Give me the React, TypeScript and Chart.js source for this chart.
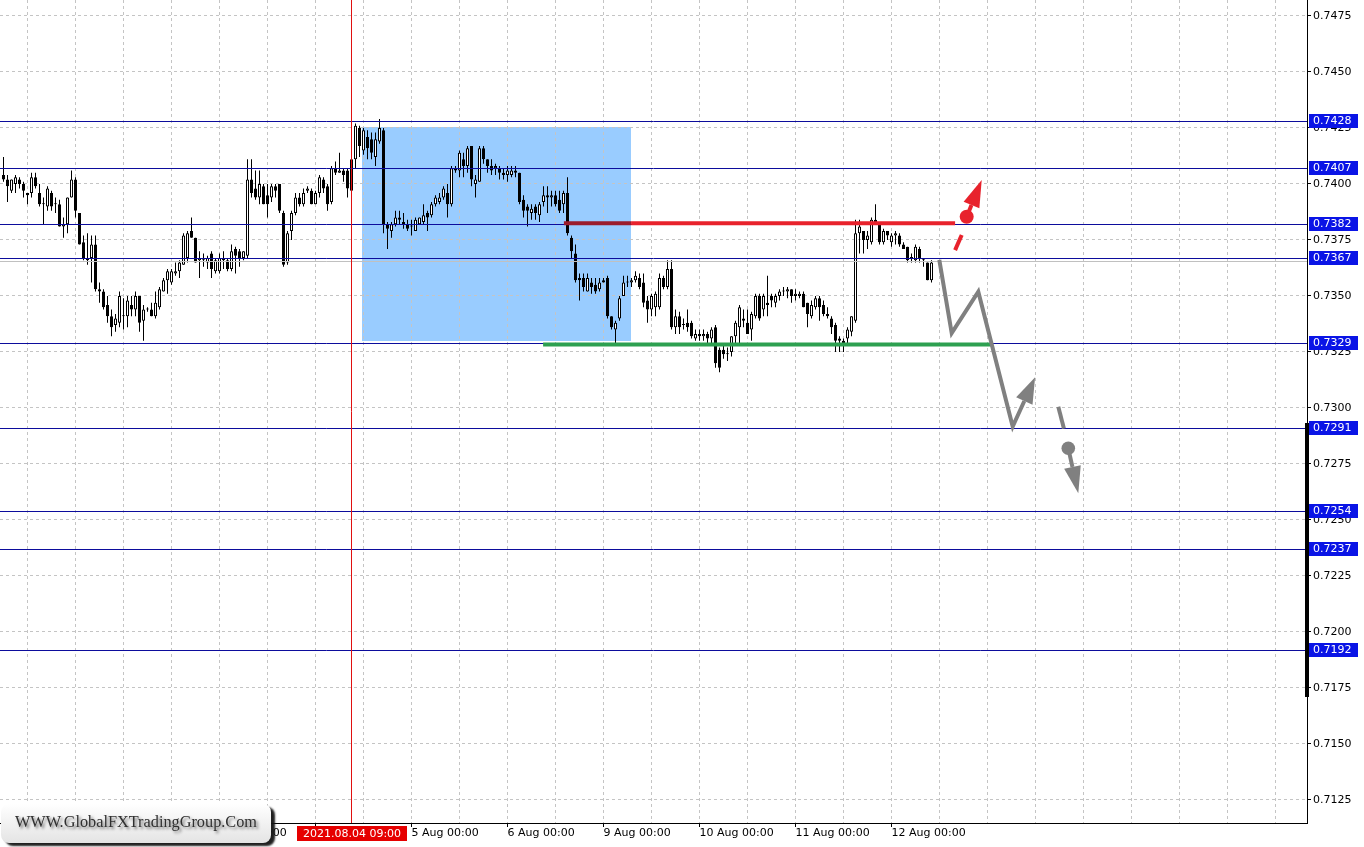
import React, { useEffect, useRef } from 'react';
import { Chart, registerables } from 'chart.js';

Chart.register(...registerables);
Chart.defaults.font.family = "'DejaVu Sans'";

// H1 candles, index 0 = first visible bar (4 Aug 09:00 is index 87)
const opens = [
  0.7404, 0.7402, 0.7397, 0.7400, 0.7402, 0.7400, 0.7396, 0.7396, 0.7403, 0.7396,
  0.7391, 0.7390, 0.7396, 0.7391, 0.7391, 0.7381, 0.7382, 0.7394, 0.7402, 0.7387,
  0.7374, 0.7367, 0.7367, 0.7373, 0.7353, 0.7352, 0.7346, 0.7341, 0.7337, 0.7338,
  0.7341, 0.7341, 0.7346, 0.7344, 0.7350, 0.7339, 0.7344, 0.7344, 0.7341, 0.7345,
  0.7352, 0.7357, 0.7356, 0.7360, 0.7361, 0.7364, 0.7367, 0.7379, 0.7376, 0.7366,
  0.7366, 0.7365, 0.7369, 0.7361, 0.7361, 0.7367, 0.7366, 0.7362, 0.7371, 0.7370,
  0.7367, 0.7368, 0.7402, 0.7398, 0.7394, 0.7399, 0.7395, 0.7394, 0.7399, 0.7400,
  0.7387, 0.7365, 0.7379, 0.7387, 0.7394, 0.7391, 0.7397, 0.7397, 0.7391, 0.7396,
  0.7402, 0.7399, 0.7392, 0.7407, 0.7405, 0.7406, 0.7406, 0.7397, 0.7411, 0.7425,
  0.7415, 0.7421, 0.7420, 0.7412, 0.7419, 0.7424, 0.7382, 0.7379, 0.7382, 0.7385,
  0.7383, 0.7382, 0.7381, 0.7379, 0.7382, 0.7383, 0.7387, 0.7386, 0.7391, 0.7392,
  0.7394, 0.7396, 0.7391, 0.7407, 0.7406, 0.7411, 0.7408, 0.7417, 0.7400, 0.7401,
  0.7416, 0.7411, 0.7408, 0.7407, 0.7407, 0.7405, 0.7404, 0.7404, 0.7406, 0.7405,
  0.7393, 0.7390, 0.7387, 0.7390, 0.7386, 0.7392, 0.7395, 0.7394, 0.7395, 0.7393,
  0.7391, 0.7396, 0.7376, 0.7369, 0.7358, 0.7358, 0.7352, 0.7356, 0.7355, 0.7353,
  0.7357, 0.7358, 0.7341, 0.7335, 0.7340, 0.7350, 0.7356, 0.7356, 0.7357, 0.7358,
  0.7356, 0.7348, 0.7344, 0.7345, 0.7345, 0.7358, 0.7354, 0.7362, 0.7336, 0.7341,
  0.7337, 0.7338, 0.7338, 0.7331, 0.7333, 0.7332, 0.7333, 0.7331, 0.7336, 0.7326,
  0.7326, 0.7324, 0.7325, 0.7332, 0.7336, 0.7340, 0.7338, 0.7335, 0.7341, 0.7350,
  0.7344, 0.7347, 0.7350, 0.7347, 0.7350, 0.7352, 0.7352, 0.7353, 0.7350, 0.7350,
  0.7351, 0.7347, 0.7341, 0.7345, 0.7349, 0.7346, 0.7342, 0.7340, 0.7337, 0.7331,
  0.7330, 0.7331, 0.7334, 0.7339, 0.7378, 0.7379, 0.7375, 0.7374, 0.7384, 0.7382,
  0.7374, 0.7379, 0.7374, 0.7377, 0.7377, 0.7373, 0.7372, 0.7367, 0.7366, 0.7371,
  0.7366, 0.7365, 0.7357,
];
const highs = [
  0.7412, 0.7404, 0.7402, 0.7404, 0.7403, 0.7401, 0.7396, 0.7405, 0.7405, 0.7400,
  0.7394, 0.7399, 0.7397, 0.7394, 0.7393, 0.7385, 0.7394, 0.7406, 0.7403, 0.7387,
  0.7377, 0.7378, 0.7377, 0.7377, 0.7356, 0.7353, 0.7350, 0.7344, 0.7342, 0.7352,
  0.7349, 0.7350, 0.7350, 0.7352, 0.7350, 0.7346, 0.7345, 0.7347, 0.7352, 0.7354,
  0.7358, 0.7362, 0.7362, 0.7365, 0.7366, 0.7378, 0.7379, 0.7385, 0.7376, 0.7370,
  0.7369, 0.7368, 0.7370, 0.7367, 0.7369, 0.7370, 0.7367, 0.7373, 0.7372, 0.7371,
  0.7370, 0.7411, 0.7411, 0.7406, 0.7406, 0.7400, 0.7400, 0.7400, 0.7400, 0.7400,
  0.7388, 0.7379, 0.7388, 0.7396, 0.7396, 0.7398, 0.7399, 0.7398, 0.7397, 0.7404,
  0.7403, 0.7400, 0.7408, 0.7410, 0.7414, 0.7407, 0.7407, 0.7413, 0.7427, 0.7426,
  0.7425, 0.7424, 0.7423, 0.7423, 0.7429, 0.7425, 0.7383, 0.7383, 0.7388, 0.7388,
  0.7387, 0.7384, 0.7384, 0.7385, 0.7385, 0.7391, 0.7388, 0.7392, 0.7395, 0.7396,
  0.7399, 0.7400, 0.7408, 0.7408, 0.7415, 0.7414, 0.7417, 0.7417, 0.7404, 0.7417,
  0.7417, 0.7411, 0.7411, 0.7409, 0.7408, 0.7407, 0.7408, 0.7408, 0.7408, 0.7405,
  0.7395, 0.7391, 0.7391, 0.7391, 0.7392, 0.7399, 0.7399, 0.7397, 0.7397, 0.7397,
  0.7397, 0.7403, 0.7377, 0.7373, 0.7360, 0.7360, 0.7360, 0.7358, 0.7358, 0.7358,
  0.7358, 0.7359, 0.7341, 0.7339, 0.7350, 0.7359, 0.7359, 0.7358, 0.7361, 0.7360,
  0.7360, 0.7350, 0.7351, 0.7352, 0.7360, 0.7359, 0.7366, 0.7366, 0.7344, 0.7343,
  0.7340, 0.7344, 0.7339, 0.7335, 0.7335, 0.7335, 0.7334, 0.7336, 0.7337, 0.7327,
  0.7328, 0.7327, 0.7332, 0.7339, 0.7346, 0.7344, 0.7344, 0.7343, 0.7351, 0.7351,
  0.7351, 0.7359, 0.7351, 0.7351, 0.7353, 0.7354, 0.7354, 0.7353, 0.7353, 0.7352,
  0.7352, 0.7347, 0.7348, 0.7350, 0.7350, 0.7348, 0.7345, 0.7341, 0.7338, 0.7332,
  0.7331, 0.7336, 0.7341, 0.7384, 0.7384, 0.7379, 0.7379, 0.7385, 0.7391, 0.7382,
  0.7380, 0.7379, 0.7378, 0.7379, 0.7378, 0.7374, 0.7372, 0.7369, 0.7373, 0.7372,
  0.7367, 0.7365, 0.7366,
];
const lows = [
  0.7401, 0.7392, 0.7396, 0.7396, 0.7398, 0.7394, 0.7391, 0.7394, 0.7398, 0.7390,
  0.7382, 0.7388, 0.7388, 0.7387, 0.7381, 0.7376, 0.7378, 0.7394, 0.7385, 0.7373,
  0.7366, 0.7364, 0.7356, 0.7352, 0.7347, 0.7344, 0.7338, 0.7332, 0.7334, 0.7336,
  0.7335, 0.7336, 0.7341, 0.7341, 0.7334, 0.7330, 0.7343, 0.7341, 0.7340, 0.7344,
  0.7352, 0.7351, 0.7355, 0.7359, 0.7358, 0.7364, 0.7365, 0.7376, 0.7365, 0.7358,
  0.7363, 0.7362, 0.7358, 0.7360, 0.7360, 0.7362, 0.7361, 0.7361, 0.7360, 0.7363,
  0.7366, 0.7367, 0.7394, 0.7393, 0.7391, 0.7391, 0.7385, 0.7392, 0.7394, 0.7387,
  0.7363, 0.7364, 0.7375, 0.7386, 0.7390, 0.7390, 0.7396, 0.7391, 0.7391, 0.7394,
  0.7396, 0.7388, 0.7391, 0.7404, 0.7405, 0.7401, 0.7394, 0.7394, 0.7407, 0.7412,
  0.7413, 0.7411, 0.7411, 0.7408, 0.7418, 0.7378, 0.7371, 0.7376, 0.7381, 0.7382,
  0.7380, 0.7379, 0.7377, 0.7379, 0.7382, 0.7382, 0.7379, 0.7385, 0.7390, 0.7391,
  0.7393, 0.7385, 0.7390, 0.7405, 0.7403, 0.7403, 0.7405, 0.7399, 0.7394, 0.7401,
  0.7409, 0.7405, 0.7404, 0.7404, 0.7402, 0.7402, 0.7401, 0.7403, 0.7403, 0.7391,
  0.7385, 0.7381, 0.7384, 0.7384, 0.7383, 0.7390, 0.7387, 0.7390, 0.7390, 0.7387,
  0.7387, 0.7377, 0.7367, 0.7356, 0.7348, 0.7352, 0.7352, 0.7351, 0.7351, 0.7352,
  0.7356, 0.7340, 0.7335, 0.7329, 0.7339, 0.7350, 0.7354, 0.7354, 0.7356, 0.7353,
  0.7345, 0.7338, 0.7341, 0.7341, 0.7344, 0.7353, 0.7353, 0.7335, 0.7333, 0.7333,
  0.7335, 0.7334, 0.7331, 0.7330, 0.7330, 0.7330, 0.7329, 0.7329, 0.7318, 0.7316,
  0.7322, 0.7321, 0.7323, 0.7329, 0.7329, 0.7336, 0.7333, 0.7330, 0.7340, 0.7339,
  0.7341, 0.7341, 0.7345, 0.7345, 0.7348, 0.7350, 0.7349, 0.7347, 0.7348, 0.7349,
  0.7345, 0.7336, 0.7340, 0.7344, 0.7339, 0.7341, 0.7340, 0.7333, 0.7325, 0.7325,
  0.7325, 0.7329, 0.7332, 0.7338, 0.7369, 0.7369, 0.7371, 0.7373, 0.7382, 0.7373,
  0.7373, 0.7375, 0.7372, 0.7373, 0.7372, 0.7371, 0.7365, 0.7365, 0.7365, 0.7365,
  0.7363, 0.7357, 0.7356,
];
const closes = [
  0.7402, 0.7399, 0.7402, 0.7403, 0.7400, 0.7397, 0.7395, 0.7403, 0.7399, 0.7391,
  0.7391, 0.7398, 0.7390, 0.7391, 0.7381, 0.7382, 0.7394, 0.7402, 0.7388, 0.7373,
  0.7367, 0.7366, 0.7373, 0.7353, 0.7352, 0.7345, 0.7341, 0.7336, 0.7340, 0.7350,
  0.7341, 0.7348, 0.7344, 0.7350, 0.7338, 0.7344, 0.7344, 0.7341, 0.7347, 0.7353,
  0.7357, 0.7361, 0.7361, 0.7361, 0.7365, 0.7377, 0.7378, 0.7376, 0.7365, 0.7367,
  0.7366, 0.7367, 0.7362, 0.7366, 0.7367, 0.7366, 0.7362, 0.7370, 0.7368, 0.7367,
  0.7370, 0.7402, 0.7396, 0.7394, 0.7400, 0.7391, 0.7391, 0.7399, 0.7397, 0.7388,
  0.7364, 0.7378, 0.7387, 0.7394, 0.7391, 0.7396, 0.7398, 0.7391, 0.7396, 0.7403,
  0.7398, 0.7391, 0.7407, 0.7405, 0.7406, 0.7404, 0.7398, 0.7411, 0.7426, 0.7417,
  0.7424, 0.7416, 0.7414, 0.7420, 0.7425, 0.7382, 0.7380, 0.7382, 0.7385, 0.7384,
  0.7382, 0.7380, 0.7381, 0.7384, 0.7385, 0.7386, 0.7385, 0.7391, 0.7394, 0.7394,
  0.7398, 0.7391, 0.7407, 0.7406, 0.7414, 0.7408, 0.7416, 0.7402, 0.7402, 0.7416,
  0.7411, 0.7408, 0.7406, 0.7408, 0.7405, 0.7404, 0.7406, 0.7406, 0.7405, 0.7392,
  0.7388, 0.7388, 0.7389, 0.7387, 0.7391, 0.7395, 0.7394, 0.7395, 0.7391, 0.7388,
  0.7396, 0.7378, 0.7370, 0.7357, 0.7357, 0.7354, 0.7358, 0.7354, 0.7352, 0.7356,
  0.7356, 0.7341, 0.7336, 0.7338, 0.7349, 0.7356, 0.7356, 0.7357, 0.7359, 0.7354,
  0.7347, 0.7344, 0.7350, 0.7351, 0.7358, 0.7354, 0.7362, 0.7336, 0.7341, 0.7336,
  0.7337, 0.7336, 0.7332, 0.7333, 0.7332, 0.7333, 0.7331, 0.7335, 0.7320, 0.7318,
  0.7324, 0.7324, 0.7332, 0.7338, 0.7345, 0.7339, 0.7333, 0.7342, 0.7350, 0.7340,
  0.7350, 0.7346, 0.7348, 0.7350, 0.7352, 0.7352, 0.7353, 0.7350, 0.7351, 0.7351,
  0.7345, 0.7342, 0.7346, 0.7349, 0.7345, 0.7342, 0.7341, 0.7336, 0.7330, 0.7330,
  0.7329, 0.7335, 0.7341, 0.7378, 0.7381, 0.7375, 0.7377, 0.7384, 0.7383, 0.7374,
  0.7379, 0.7377, 0.7377, 0.7378, 0.7373, 0.7371, 0.7366, 0.7367, 0.7372, 0.7367,
  0.7366, 0.7357, 0.7365,
];

// axes
const yTickValues = [0.7125, 0.715, 0.7175, 0.72, 0.7225, 0.725, 0.7275, 0.73, 0.7325, 0.735, 0.7375, 0.74, 0.7425, 0.745, 0.7475];
const xGridIdx = [6, 18, 30, 42, 54, 66, 78, 90, 102, 114, 126, 138, 150, 162, 174, 186, 198, 210, 222, 234, 246, 258, 270, 282, 294, 306, 318];
const dayTickIdx = [6, 30, 54, 78, 102, 126, 150, 174, 198, 222];
const dayLabels = ['30 Jul 00:00', '2 Aug 00:00', '3 Aug 00:00', '4 Aug 00:00', '5 Aug 00:00', '6 Aug 00:00', '9 Aug 00:00', '10 Aug 00:00', '11 Aug 00:00', '12 Aug 00:00'];
const priceMin = 0.711473;
const priceMax = 0.748214;
const idxMin = -0.875;
const idxMax = 325.875;

// horizontal levels
const levels = [0.7428, 0.7407, 0.7382, 0.7367, 0.7329, 0.7291, 0.7254, 0.7237, 0.7192];
const bidPrice = 0.73656;

// marker
const markerIdx = 87;
const markerLabel = '2021.08.04 09:00';

// zone rectangle [startIdx, endIdx], [high, low]
const zoneIdx = [89.55, 156.9];
const zonePrice = [0.74253, 0.73296];

// red resistance and green support segments
const redLineIdx = [140.1, 237.9];
const redLinePrice = 0.73825;
const greenLineIdx = [134.9, 246.9];
const greenLinePrice = 0.73284;

// gray forecast path
const grayPathIdx = [233.95, 237.05, 243.7, 252.3, 257.9];
const grayPathPrice = [0.73661, 0.73334, 0.73519, 0.72917, 0.73137];
const grayDashIdx = [263.7, 265.1];
const grayDashPrice = [0.73006, 0.72909];
const grayDotIdx = 266.2;
const grayDotPrice = 0.7282;
const grayTipIdx = 268.7;
const grayTipPrice = 0.72619;

// red alternative
const redDashIdx = [237.9, 239.55];
const redDashPrice = [0.73705, 0.73772];
const redDotIdx = 240.8;
const redDotPrice = 0.73854;
const redTipIdx = 244.55;
const redTipPrice = 0.74018;

const watermark = 'WWW.GlobalFXTradingGroup.Com';

function arrowHead(ctx: CanvasRenderingContext2D, fx: number, fy: number, tx: number, ty: number, len: number, half: number, color: string) {
  const dx = tx - fx, dy = ty - fy;
  const d = Math.hypot(dx, dy);
  const ux = dx / d, uy = dy / d;
  const bx = tx - ux * len, by = ty - uy * len;
  ctx.beginPath();
  ctx.moveTo(tx, ty);
  ctx.lineTo(bx - uy * half, by + ux * half);
  ctx.lineTo(bx + uy * half, by - ux * half);
  ctx.closePath();
  ctx.fillStyle = color;
  ctx.fill();
  return [bx, by];
}

const overlay = {
  id: 'overlay',
  beforeDraw(chart: any) {
    const { ctx, scales } = chart;
    const xs = scales.x, ys = scales.y;
    ctx.save();
    ctx.fillStyle = '#ffffff';
    ctx.fillRect(0, 0, chart.width, chart.height);
    const x0 = xs.getPixelForValue(zoneIdx[0]);
    const x1 = xs.getPixelForValue(zoneIdx[1]);
    const y0 = ys.getPixelForValue(zonePrice[0]);
    const y1 = ys.getPixelForValue(zonePrice[1]);
    ctx.fillStyle = '#99ccff';
    ctx.fillRect(Math.round(x0), Math.round(y0), Math.round(x1 - x0), Math.round(y1 - y0));
    ctx.restore();
  },
  afterDatasetsDraw(chart: any) {
    const { ctx, chartArea: a, scales } = chart;
    const xs = scales.x, ys = scales.y;
    const px = (v: number) => xs.getPixelForValue(v);
    const py = (v: number) => ys.getPixelForValue(v);
    ctx.save();
    ctx.beginPath();
    ctx.rect(a.left, a.top, a.right - a.left, a.bottom - a.top);
    ctx.clip();

    // bid line
    ctx.lineWidth = 1;
    ctx.strokeStyle = '#c0c0c0';
    let yy = Math.round(py(bidPrice)) + 0.5;
    ctx.beginPath(); ctx.moveTo(a.left, yy); ctx.lineTo(a.right, yy); ctx.stroke();

    // levels
    ctx.strokeStyle = '#0c0c9c';
    for (const lv of levels) {
      yy = Math.round(py(lv)) + 0.5;
      ctx.beginPath(); ctx.moveTo(a.left, yy); ctx.lineTo(a.right, yy); ctx.stroke();
    }

    // red resistance line (darker inside the zone)
    ctx.lineWidth = 4;
    const ry = py(redLinePrice);
    const zEnd = px(zoneIdx[1]);
    ctx.strokeStyle = '#e8222c';
    ctx.beginPath(); ctx.moveTo(zEnd, ry); ctx.lineTo(px(redLineIdx[1]), ry); ctx.stroke();
    ctx.strokeStyle = '#9b1c2c';
    ctx.beginPath(); ctx.moveTo(px(redLineIdx[0]), ry); ctx.lineTo(zEnd, ry); ctx.stroke();

    // green support line
    const gy = py(greenLinePrice);
    ctx.strokeStyle = '#2da050';
    ctx.beginPath(); ctx.moveTo(px(greenLineIdx[0]), gy); ctx.lineTo(px(greenLineIdx[1]), gy); ctx.stroke();

    // gray forecast zigzag
    const gray = '#808080';
    const n = grayPathIdx.length;
    const [gbx, gby] = arrowHead(ctx, px(grayPathIdx[n - 2]), py(grayPathPrice[n - 2]), px(grayPathIdx[n - 1]), py(grayPathPrice[n - 1]), 26, 9, gray);
    ctx.strokeStyle = gray;
    ctx.lineWidth = 4;
    ctx.lineJoin = 'miter';
    ctx.beginPath();
    ctx.moveTo(px(grayPathIdx[0]), py(grayPathPrice[0]));
    for (let i = 1; i < n - 1; i++) ctx.lineTo(px(grayPathIdx[i]), py(grayPathPrice[i]));
    ctx.lineTo(gbx, gby);
    ctx.stroke();

    // gray dashed continuation, dot and arrow
    ctx.beginPath();
    ctx.moveTo(px(grayDashIdx[0]), py(grayDashPrice[0]));
    ctx.lineTo(px(grayDashIdx[1]), py(grayDashPrice[1]));
    ctx.stroke();
    const gdx = px(grayDotIdx), gdy = py(grayDotPrice);
    ctx.fillStyle = gray;
    ctx.beginPath(); ctx.arc(gdx, gdy, 6.8, 0, Math.PI * 2); ctx.fill();
    const [g2x, g2y] = arrowHead(ctx, gdx, gdy, px(grayTipIdx), py(grayTipPrice), 27, 8.5, gray);
    ctx.beginPath(); ctx.moveTo(gdx, gdy); ctx.lineTo(g2x, g2y); ctx.stroke();

    // red alternative
    const red = '#e8222c';
    ctx.strokeStyle = red;
    ctx.beginPath();
    ctx.moveTo(px(redDashIdx[0]), py(redDashPrice[0]));
    ctx.lineTo(px(redDashIdx[1]), py(redDashPrice[1]));
    ctx.stroke();
    const rdx = px(redDotIdx), rdy = py(redDotPrice);
    ctx.fillStyle = red;
    ctx.beginPath(); ctx.arc(rdx, rdy, 7, 0, Math.PI * 2); ctx.fill();
    const [r2x, r2y] = arrowHead(ctx, rdx, rdy, px(redTipIdx), py(redTipPrice), 27, 8.5, red);
    ctx.beginPath(); ctx.moveTo(rdx, rdy); ctx.lineTo(r2x, r2y); ctx.stroke();

    // time marker line
    ctx.lineWidth = 1;
    ctx.strokeStyle = '#e01010';
    const mx = Math.round(px(markerIdx) - 0.5) + 0.5;
    ctx.beginPath(); ctx.moveTo(mx, a.top); ctx.lineTo(mx, a.bottom); ctx.stroke();
    ctx.restore();
  },
  afterDraw(chart: any) {
    const { ctx, chartArea: a, scales } = chart;
    const xs = scales.x, ys = scales.y;
    ctx.save();
    ctx.font = "11px 'DejaVu Sans'";
    ctx.textBaseline = 'middle';

    // thick axis segment
    ctx.fillStyle = '#000';
    ctx.fillRect(a.right - 2, 423, 4, 274);

    // level labels
    for (const lv of levels) {
      const y = Math.round(ys.getPixelForValue(lv));
      ctx.fillStyle = '#0a14e6';
      ctx.fillRect(a.right + 2, y - 7, 49, 14);
      ctx.fillStyle = '#ffffff';
      ctx.textAlign = 'left';
      ctx.fillText(lv.toFixed(4), a.right + 6, y + 0.5);
    }

    // marker time label
    const mx = Math.round(xs.getPixelForValue(markerIdx));
    ctx.fillStyle = '#e60000';
    ctx.fillRect(mx - 55, a.bottom + 3, 110, 15);
    ctx.fillStyle = '#ffffff';
    ctx.textAlign = 'center';
    ctx.fillText(markerLabel, mx, a.bottom + 11);

    // watermark box
    ctx.save();
    ctx.shadowColor = 'rgba(20,20,20,0.95)';
    ctx.shadowOffsetX = 4;
    ctx.shadowOffsetY = 3;
    ctx.shadowBlur = 2;
    const grad = ctx.createLinearGradient(0, 804, 0, 843);
    grad.addColorStop(0, '#ffffff');
    grad.addColorStop(1, '#e4e4e4');
    ctx.fillStyle = grad;
    ctx.beginPath();
    (ctx as any).roundRect(1, 804, 270, 39, 8);
    ctx.fill();
    ctx.restore();

    ctx.save();
    ctx.font = "17px 'Liberation Serif'";
    ctx.textAlign = 'left';
    ctx.textBaseline = 'alphabetic';
    const w = ctx.measureText(watermark).width;
    ctx.translate(15, 827);
    ctx.scale(242 / w, 1);
    ctx.shadowColor = 'rgba(0,0,0,0.55)';
    ctx.shadowOffsetX = 2;
    ctx.shadowOffsetY = 2;
    ctx.shadowBlur = 3;
    ctx.fillStyle = '#303030';
    ctx.fillText(watermark, 0, 0);
    ctx.restore();

    ctx.restore();
  },
};

export default function App() {
  const ref = useRef<HTMLCanvasElement | null>(null);
  useEffect(() => {
    const bodies = opens.map((o, i) => ({ x: i, y: [Math.min(o, closes[i]), Math.max(o, closes[i])] }));
    const wicks = highs.map((h, i) => ({ x: i, y: [lows[i], h] }));
    const bodyColors = opens.map((o, i) => (closes[i] >= o ? '#ffffff' : '#000000'));
    const tickFont = { family: "'DejaVu Sans'", size: 11 };
    const chart = new Chart(ref.current as HTMLCanvasElement, {
      type: 'bar',
      data: {
        datasets: [
          {
            label: 'body',
            data: bodies as any,
            backgroundColor: bodyColors,
            borderColor: '#000000',
            borderWidth: 1,
            borderSkipped: false,
            barThickness: 3,
            grouped: false,
            minBarLength: 1,
            inflateAmount: 0,
          } as any,
          {
            label: 'wick',
            data: wicks as any,
            backgroundColor: '#000000',
            borderWidth: 0,
            barThickness: 1,
            grouped: false,
            inflateAmount: 0,
          } as any,
        ],
      },
      options: {
        responsive: false,
        animation: false,
        devicePixelRatio: 1,
        events: [],
        layout: { padding: 0 },
        plugins: { legend: { display: false }, tooltip: { enabled: false } },
        scales: {
          x: {
            type: 'linear',
            min: idxMin,
            max: idxMax,
            offset: false,
            afterBuildTicks: (s: any) => { s.ticks = xGridIdx.map((v) => ({ value: v })); },
            afterFit: (s: any) => { s.height = 24; s.paddingLeft = 0; s.paddingRight = 0; s.paddingTop = 0; s.paddingBottom = 0; },
            grid: {
              offset: false,
              color: '#c4c4c4',
              lineWidth: 1,
              drawTicks: true,
              tickLength: 4,
              tickColor: (c: any) => (c.tick && dayTickIdx.includes(c.tick.value) ? '#000000' : 'rgba(0,0,0,0)'),
            },
            border: { display: true, color: '#000000', width: 1, dash: [3, 3] },
            ticks: {
              autoSkip: false,
              maxRotation: 0,
              minRotation: 0,
              align: 'start',
              padding: 0,
              color: '#000000',
              font: tickFont,
              callback: (v: any) => {
                const k = dayTickIdx.indexOf(Number(v));
                return k >= 0 ? dayLabels[k] : '';
              },
            },
          },
          y: {
            type: 'linear',
            position: 'right',
            min: priceMin,
            max: priceMax,
            beginAtZero: false,
            stacked: false,
            afterBuildTicks: (s: any) => { s.ticks = yTickValues.map((v) => ({ value: v })); },
            afterFit: (s: any) => { s.width = 57; s.paddingTop = 0; s.paddingBottom = 0; s.paddingLeft = 0; s.paddingRight = 0; },
            grid: { color: '#c4c4c4', lineWidth: 1, drawTicks: true, tickLength: 4, tickColor: '#000000' },
            border: { display: true, color: '#000000', width: 1, dash: [3, 3] },
            ticks: {
              padding: 2,
              color: '#000000',
              font: tickFont,
              callback: (v: any) => Number(v).toFixed(4),
            },
          },
        },
      } as any,
      plugins: [overlay],
    });
    return () => chart.destroy();
  }, []);
  return (
    <div style={{ position: 'absolute', left: 0, top: 0, width: 1364, height: 847, background: '#fff' }}>
      <canvas ref={ref} width={1364} height={847} style={{ display: 'block' }} />
    </div>
  );
}
